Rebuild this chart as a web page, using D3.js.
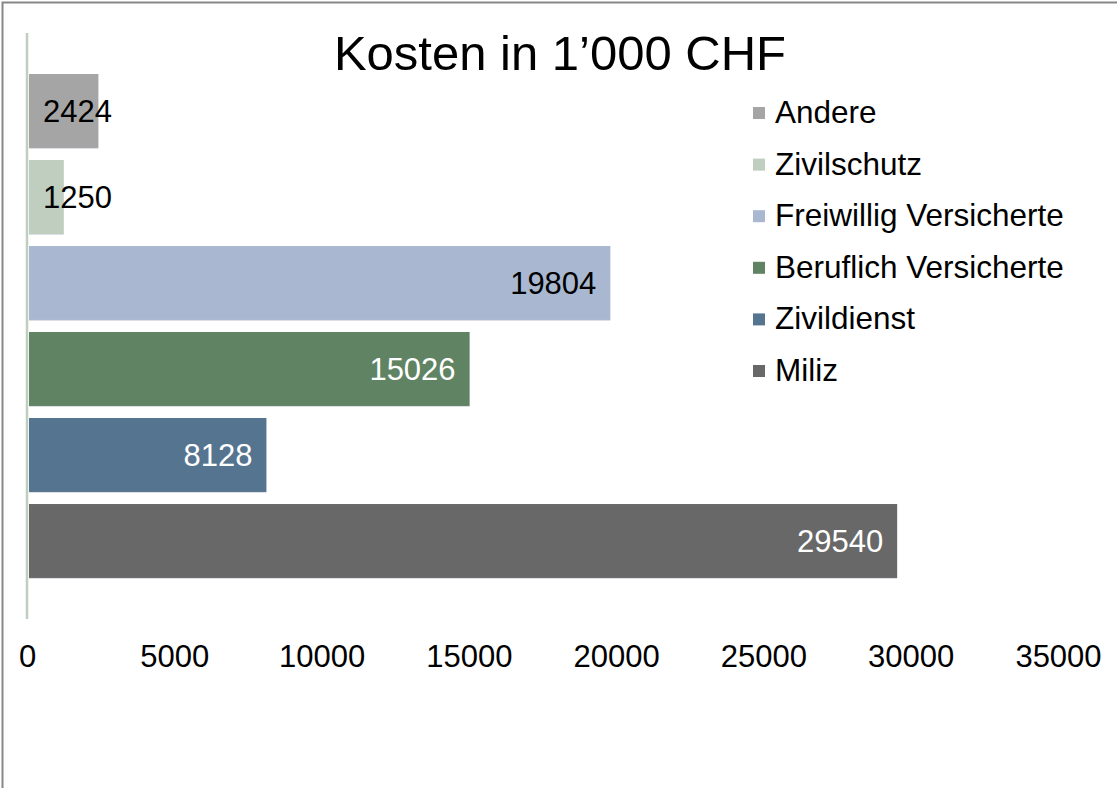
<!DOCTYPE html>
<html>
<head>
<meta charset="utf-8">
<script src="https://cdn.jsdelivr.net/npm/d3@7"></script>
<style>
  body { margin: 0; background: #fff; }
  svg { display: block; font-family: "Liberation Sans", Arial, sans-serif; }
</style>
</head>
<body>
<svg id="chart" width="1117" height="788"></svg>
<script>
// data, top to bottom as drawn
const categories = ["Andere", "Zivilschutz", "Freiwillig Versicherte", "Beruflich Versicherte", "Zivildienst", "Miliz"];
const values = [2424, 1250, 19804, 15026, 8128, 29540];
const colors = ["#a5a5a5", "#bfcebf", "#a9b8d0", "#5f8363", "#557490", "#686868"];
const labelColors = ["#000", "#000", "#000", "#fff", "#fff", "#fff"];
const xTicks = [0, 5000, 10000, 15000, 20000, 25000, 30000, 35000];
const title = "Kosten in 1’000 CHF";

const svg = d3.select("#chart");

// outer frame (only top and left edges are visible in the picture)
svg.append("rect")
  .attr("x", 2.5).attr("y", 2.5)
  .attr("width", 1200).attr("height", 900)
  .attr("fill", "none")
  .attr("stroke", "#878787")
  .attr("stroke-width", 2);

const x = d3.scaleLinear().domain([0, 35000]).range([27, 1058]);
const y = d3.scaleBand()
  .domain(categories)
  .range([33, 619])
  .paddingInner(0.14)
  .paddingOuter(0.477);

// bars
svg.append("g")
  .selectAll("rect")
  .data(categories)
  .join("rect")
  .attr("x", x(0) + 2)
  .attr("y", d => y(d))
  .attr("width", (d, i) => x(values[i]) - x(0) - 2)
  .attr("height", y.bandwidth())
  .attr("fill", (d, i) => colors[i]);

// bottom highlight line under each bar
svg.append("g")
  .selectAll("line")
  .data(categories)
  .join("line")
  .attr("x1", x(0) + 2)
  .attr("x2", (d, i) => x(values[i]))
  .attr("y1", d => y(d) + y.bandwidth() + 0.5)
  .attr("y2", d => y(d) + y.bandwidth() + 0.5)
  .attr("stroke", "#dcdfe4")
  .attr("stroke-width", 1);

// vertical axis line
svg.append("line")
  .attr("x1", x(0)).attr("x2", x(0))
  .attr("y1", 33).attr("y2", 619)
  .attr("stroke", "#bfcebf")
  .attr("stroke-width", 2.5);

// value labels: inside end, pushed right when the bar is too short
const labels = svg.append("g")
  .attr("font-size", 31)
  .selectAll("text")
  .data(categories)
  .join("text")
  .attr("y", d => y(d) + y.bandwidth() / 2)
  .attr("dy", "0.36em")
  .attr("fill", (d, i) => labelColors[i])
  .text((d, i) => values[i]);

labels.each(function(d, i) {
  const w = this.getComputedTextLength();
  const end = x(values[i]) - 14;
  const minEnd = x(0) + 16 + w;
  d3.select(this)
    .attr("text-anchor", "end")
    .attr("x", Math.max(end, minEnd));
});

// x tick labels (no axis line, no ticks)
const xAxis = d3.axisBottom(x)
  .tickValues(xTicks)
  .tickSize(0)
  .tickPadding(0)
  .tickFormat(d3.format("d"));

const gx = svg.append("g")
  .attr("transform", "translate(0,645)")
  .call(xAxis);
gx.select(".domain").remove();
gx.selectAll("text")
  .attr("font-family", "Liberation Sans, Arial, sans-serif")
  .attr("font-size", 31)
  .attr("fill", "#000")
  .attr("dy", "0.71em");

// title
svg.append("text")
  .attr("x", 560)
  .attr("y", 70)
  .attr("text-anchor", "middle")
  .attr("font-size", 49)
  .attr("fill", "#000")
  .text(title);

// legend
const legend = svg.append("g")
  .selectAll("g")
  .data(categories)
  .join("g")
  .attr("transform", (d, i) => `translate(753,${123 + i * 51.6})`);

legend.append("rect")
  .attr("x", 0).attr("y", -16)
  .attr("width", 12).attr("height", 12)
  .attr("fill", (d, i) => colors[i]);

legend.append("text")
  .attr("x", 22)
  .attr("y", 0)
  .attr("font-size", 31.5)
  .attr("fill", "#000")
  .text(d => d);
</script>
</body>
</html>
